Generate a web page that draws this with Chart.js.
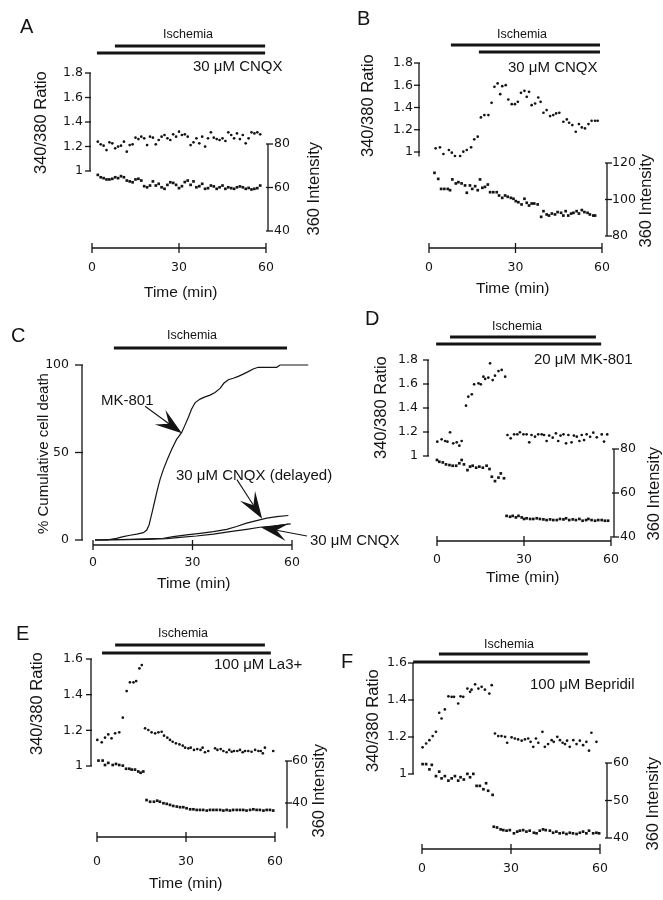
<!DOCTYPE html>
<html>
<head>
<meta charset="utf-8">
<script src="https://cdn.jsdelivr.net/npm/chart.js@4.4.1/dist/chart.umd.min.js"></script>
<style>
  body { margin: 0; background: #fff; }
  #fig { position: relative; width: 663px; height: 900px; overflow: hidden; background: #fff; }
  #fig canvas { position: absolute; }
  .lbl { position: absolute; white-space: nowrap; color: #141414;
         font-family: "Liberation Sans", Arial, Helvetica, sans-serif; }
</style>
</head>
<body>
<div id="fig"></div>
<script>
// ---------- data (time in min) ----------
var timeTicks = [0, 30, 60];
var ratioTicks18 = [1, 1.2, 1.4, 1.6, 1.8];
var ratioTicks16 = [1, 1.2, 1.4, 1.6];
var intensityTicksA = [40, 60, 80];
var intensityTicksB = [80, 100, 120];
var intensityTicksD = [40, 60, 80];
var intensityTicksE = [40, 60];
var intensityTicksF = [40, 50, 60];
var deathTicks = [0, 50, 100];

// panel A
var A_time = [2,3,4,5,6,7,8,9,10,11,12,13,14,15,16,17,18,19,20,21,22,23,24,25,26,27,28,29,30,31,32,33,34,35,36,37,38,39,40,41,42,43,44,45,46,47,48,49,50,51,52,53,54,55,56,57,58];
var A_ratio = [1.239,1.218,1.207,1.171,1.234,1.226,1.185,1.199,1.207,1.239,1.158,1.212,1.218,1.272,1.261,1.28,1.267,1.212,1.28,1.272,1.218,1.253,1.28,1.294,1.267,1.253,1.299,1.28,1.321,1.294,1.299,1.28,1.212,1.234,1.267,1.226,1.28,1.199,1.267,1.316,1.272,1.261,1.253,1.267,1.245,1.316,1.294,1.267,1.307,1.261,1.294,1.226,1.267,1.316,1.307,1.316,1.299];
var A_intensity = [65.8,64.7,64.3,63.7,63.7,64.0,64.7,64.3,65.2,64.7,63.2,62.8,62.4,63.7,64.0,63.2,60.6,60.1,60.9,62.8,60.9,61.7,60.1,59.4,61.2,62.4,62.1,61.2,59.7,60.6,62.5,63.2,61.2,62.8,60.1,60.6,61.7,59.4,59.7,60.9,60.5,59.4,60.1,60.9,59.4,60.1,59.7,59.4,60.1,60.5,60.1,59.4,59.8,59.1,59.4,59.7,60.9];
var A_ischemia = [7.9, 59.7];
var A_drug = [1.7, 59.7];

// panel B
var B_ratioTime = [2.3,3.8,5.0,6.9,7.9,9.0,10.8,11.9,13.1,14.6,15.7,16.9,18.0,19.2,20.6,21.7,22.7,23.8,24.7,25.4,26.6,27.5,28.7,29.8,30.8,31.9,33.1,33.9,34.7,35.6,36.8,37.9,38.7,39.7,40.8,42.0,43.1,44.1,45.2,46.6,47.8,48.6,49.7,50.9,52.0,53.0,54.1,55.3,56.4,57.6,58.5];
var B_ratio = [1.033,1.042,0.982,1.018,0.994,0.964,0.964,1.003,1.018,1.042,1.114,1.138,1.311,1.332,1.332,1.442,1.586,1.616,1.520,1.592,1.601,1.472,1.430,1.430,1.451,1.532,1.550,1.496,1.541,1.421,1.436,1.490,1.451,1.353,1.377,1.323,1.332,1.347,1.353,1.272,1.293,1.263,1.242,1.182,1.251,1.221,1.212,1.251,1.281,1.281,1.281];
var B_intTime = [1.9,3.2,4.2,5.3,6.5,7.3,8.1,9.3,10.2,11.3,12.5,13.1,14.2,15.0,16.0,16.9,17.7,18.5,19.4,20.4,21.2,22.3,23.5,24.3,25.4,26.4,27.3,28.4,29.3,30.1,31.0,32.1,33.1,33.9,34.7,35.6,36.5,37.7,38.9,39.7,40.8,41.6,42.6,43.7,44.6,45.8,46.6,47.4,48.3,49.3,50.1,51.2,52.0,53.0,53.9,55.0,55.8,57.0,57.6];
var B_intensity = [114.6,111.3,105.8,105.8,105.8,105.1,111.0,108.8,109.5,108.8,107.7,103.7,107.7,105.8,107.3,105.1,111.0,106.4,106.9,108.2,104.0,104.0,104.0,102.2,100.9,102.2,101.5,100.9,100.4,99.1,98.5,97.3,100.4,98.2,96.7,97.8,97.8,97.3,90.5,93.6,91.8,91.2,92.3,91.8,93.1,92.7,91.2,93.6,91.2,92.3,92.7,93.6,92.3,94.2,93.1,92.7,91.8,91.2,91.2];
var B_ischemia = [7.6, 59.3];
var B_drug = [17.3, 59.3];

// panel C (% cumulative cell death)
var C_mkTime = [0.6,4.1,7.1,9.1,11.2,13.2,15.2,16.2,16.9,17.4,18.0,18.7,19.4,20.2,21.2,22.4,23.7,25.2,26.7,27.7,28.7,29.7,30.8,32.3,33.8,35.3,36.8,38.3,39.5,40.8,42.3,43.8,45.3,46.8,48.3,49.8,52.4,55.4,56.4,60.4,64.9];
var C_mk = [0,0,0.9,1.9,2.7,3.4,4.2,5.7,8.6,12.5,17.2,23.0,28.7,34.5,40.2,46.0,51.7,57.5,61.3,65.5,69.9,74.7,78.5,80.5,81.8,82.8,84.3,86.6,89.7,91.6,92.4,93.5,94.8,96.2,97.7,98.7,98.7,98.7,100,100,100];
var C_delayedTime = [0.6,11.2,21.2,24.2,28.2,32.3,36.3,40.3,43.3,46.3,49.3,52.4,55.4,58.9];
var C_delayed = [0,0.4,1.0,1.9,2.9,3.8,4.8,6.1,7.7,9.6,11.1,12.5,13.4,14.0];
var C_cnqxTime = [0.6,16.2,22.2,26.2,31.2,36.3,41.3,46.3,50.3,54.4,59.6];
var C_cnqx = [0,0.4,0.8,1.5,2.3,3.4,4.8,6.1,7.3,8.0,9.2];
var C_ischemia = [6.3, 58.5];

// panel D
var D_ratioTime = [0.1,1.6,2.8,3.6,4.5,5.6,6.8,7.7,8.5,10.0,10.8,12.0,12.8,14.3,15.1,16.0,16.6,17.7,18.3,19.2,20.0,21.2,22.3,23.5,24.3,25.4,26.6,27.7,28.6,29.8,30.9,31.8,32.6,33.8,34.9,36.1,36.9,37.8,38.7,39.9,41.0,41.8,42.6,43.6,44.5,45.3,46.4,47.2,48.2,49.1,49.9,50.7,51.6,52.8,53.9,55.1,56.8,57.6,58.7];
var D_ratio = [1.119,1.139,1.125,1.119,1.197,1.106,1.114,1.086,1.125,1.419,1.494,1.514,1.597,1.606,1.597,1.661,1.642,1.653,1.772,1.633,1.669,1.708,1.717,1.661,1.175,1.147,1.181,1.181,1.197,1.181,1.181,1.114,1.175,1.161,1.181,1.181,1.175,1.125,1.17,1.153,1.189,1.125,1.17,1.181,1.106,1.175,1.114,1.17,1.161,1.125,1.175,1.133,1.181,1.16,1.194,1.156,1.18,1.12,1.18];
var D_intTime = [0,0.8,2.0,3.1,4.3,5.4,6.6,7.7,8.5,9.3,10.5,11.4,12.3,13.5,14.6,15.8,17.1,18.1,18.9,20.0,21.2,22.0,23.1,24.0,25.2,26.1,27.2,28.1,29.2,30.0,30.9,32.1,33.2,34.4,35.5,36.7,37.8,39.0,40.1,41.3,42.4,43.6,44.5,45.6,46.8,47.9,49.1,50.2,51.4,52.2,53.3,54.5,55.6,56.8,57.9,59.0];
var D_intensity = [75.0,74.2,73.9,73.0,72.7,72.4,72.4,73.5,75.0,73.0,70.4,72.0,72.4,71.5,72.0,71.5,72.4,70.9,67.4,65.4,67.0,68.9,66.7,49.6,49.2,49.6,48.9,49.6,48.9,48.2,48.5,48.2,48.2,48.5,48.2,48.0,47.7,48.0,47.7,47.7,48.2,48.0,48.5,47.7,48.0,47.7,48.2,47.4,47.7,48.2,47.7,47.4,47.7,47.7,47.4,47.4];
var D_ischemia = [4.5, 54.8];
var D_drug = [-0.3, 56.6];

// panel E
var E_ratioTime = [0.1,1.6,2.7,3.8,4.9,6.1,7.5,8.7,10.0,11.1,12.3,13.2,14.3,15.1,16.2,17.3,18.4,19.6,20.7,21.8,22.6,23.7,24.6,25.5,26.6,27.8,28.9,29.7,30.8,31.6,32.7,33.8,34.9,35.6,36.4,37.5,39.8,40.6,41.7,42.6,43.7,44.6,45.4,46.2,47.3,48.2,49.1,49.9,51.0,52.1,53.3,54.4,55.2,55.9,56.6,59.4];
var E_ratio = [1.146,1.133,1.159,1.177,1.155,1.183,1.189,1.271,1.420,1.469,1.469,1.476,1.547,1.566,1.211,1.202,1.189,1.183,1.189,1.192,1.170,1.159,1.146,1.136,1.127,1.121,1.114,1.103,1.099,1.103,1.090,1.095,1.090,1.103,1.077,1.084,1.099,1.090,1.095,1.084,1.077,1.090,1.080,1.084,1.084,1.090,1.077,1.084,1.084,1.080,1.090,1.084,1.084,1.071,1.103,1.084];
var E_intTime = [0.5,1.9,2.7,3.8,5.3,6.4,7.5,8.7,9.8,10.9,11.7,12.8,13.9,14.7,15.6,16.7,17.9,19.2,20.3,21.2,22.4,23.5,24.6,25.7,26.9,28.0,29.1,30.2,31.4,32.5,33.6,34.7,35.8,37.0,38.1,39.2,40.3,41.5,42.6,43.7,44.8,45.9,47.1,48.2,49.3,50.4,51.6,52.7,53.8,54.9,56.1,57.2,58.3,59.4];
var E_intensity = [60.2,60.2,58.1,59.1,58.1,58.6,58.1,57.8,56.3,56.3,55.9,55.9,55.0,54.4,55.0,41.4,40.6,40.6,41.1,40.6,39.9,39.6,39.1,38.6,38.3,38.0,38.0,37.5,37.0,37.0,36.7,36.7,36.7,36.4,36.7,36.7,36.7,36.7,36.4,36.7,36.4,36.7,36.7,36.7,36.7,36.4,36.7,37.0,36.7,36.7,36.4,36.7,36.7,36.4];
var E_ischemia = [6.1, 56.6];
var E_drug = [1.7, 58.6];

// panel F
var F_ratioTime = [0.2,1.4,2.5,3.6,4.7,5.8,6.6,7.7,8.9,10.0,10.8,12.2,13.0,13.9,15.3,16.2,16.7,17.9,19.0,20.1,21.2,22.7,23.5,24.6,25.7,26.8,28.0,28.7,30.2,31.3,32.4,33.6,34.7,35.8,36.6,37.5,38.4,39.2,40.6,41.4,42.5,43.7,44.4,45.6,46.5,47.4,48.2,48.9,49.8,51.0,52.1,53.2,54.3,55.4,56.3,57.1,58.8];
var F_ratio = [1.144,1.165,1.183,1.205,1.228,1.331,1.300,1.349,1.420,1.417,1.417,1.381,1.420,1.417,1.462,1.444,1.456,1.485,1.462,1.471,1.456,1.435,1.480,1.219,1.205,1.205,1.201,1.169,1.198,1.192,1.187,1.180,1.187,1.192,1.174,1.147,1.192,1.169,1.228,1.147,1.162,1.183,1.174,1.201,1.183,1.169,1.162,1.180,1.147,1.183,1.162,1.180,1.156,1.174,1.126,1.223,1.174];
var F_intTime = [0.2,1.4,2.5,3.3,4.7,5.8,6.6,7.7,8.9,10.0,11.1,12.2,13.0,14.1,15.3,16.2,17.3,18.4,19.5,20.7,21.6,22.3,23.8,24.2,25.3,26.5,27.4,28.5,29.6,31.0,32.1,33.0,34.1,35.2,36.3,37.7,38.6,39.7,40.8,41.7,43.1,44.2,45.3,46.4,47.6,48.7,49.8,50.9,52.1,53.2,54.3,55.4,56.3,57.7,58.8,59.7];
var F_intensity = [59.7,59.7,58.3,59.5,56.5,57.7,55.9,56.5,55.3,55.9,56.5,55.3,56.2,55.6,57.1,56.2,57.1,53.9,53.9,53.0,54.6,52.6,51.5,43.0,42.8,42.3,42.1,41.95,42.1,41.25,41.7,41.95,42.1,41.7,41.95,41.4,41.25,41.95,42.3,42.1,41.95,41.4,41.7,41.25,41.4,41.07,41.4,41.25,41.07,41.4,41.7,41.25,41.95,41.25,41.4,41.25];
var F_ischemia = [5.7, 55.9];
var F_drug = [-3.0, 56.6];

// ---------- drawing ----------
var INK = '#141414';
var TICK_FONT = { family: 'DejaVu Sans', size: 12.5 };
var fig = document.getElementById('fig');

function pts(xs, ys) {
  return xs.map(function (x, i) { return { x: x, y: ys[i] }; });
}
function ratioDots(xs, ys) {
  return { data: pts(xs, ys), yAxisID: 'yl', pointStyle: 'circle', pointRadius: 1.35,
           backgroundColor: INK, borderWidth: 0, showLine: false, clip: false };
}
function intensityDots(xs, ys) {
  return { data: pts(xs, ys), yAxisID: 'yr', pointStyle: 'rect', pointRadius: 1.9,
           backgroundColor: INK, borderWidth: 0, showLine: false, clip: false };
}
function curve(xs, ys) {
  return { data: pts(xs, ys), yAxisID: 'yl', showLine: true, pointRadius: 0,
           borderColor: INK, borderWidth: 1.2, tension: 0, clip: false };
}

function rangeFrom(lo, hi, pTop, pBottom) {
  var k = (lo[1] - hi[1]) / (hi[0] - lo[0]);
  return { min: lo[0] - (pBottom - lo[1]) / k, max: hi[0] + (hi[1] - pTop) / k };
}

function yAxis(pos, ax, area, w) {
  var r = rangeFrom(ax.lo, ax.hi, area.top, area.bottom);
  return {
    type: 'linear', position: pos, min: r.min, max: r.max,
    grid: { display: false, drawTicks: false }, border: { display: false },
    ticks: { autoSkip: false, padding: ax.pad, color: INK, font: TICK_FONT,
             callback: function (v) { return String(v); } },
    afterBuildTicks: function (s) { s.ticks = ax.ticks.map(function (v) { return { value: v }; }); },
    afterFit: function (s) { s.width = w; }
  };
}

function drawArrow(ctx, x1, y1, x2, y2) {
  var dx = x2 - x1, dy = y2 - y1, len = Math.hypot(dx, dy);
  var ux = dx / len, uy = dy / len, nx = -uy, ny = ux;
  var L = 27, W = 9, N = 16;
  ctx.lineWidth = 1.1;
  ctx.beginPath(); ctx.moveTo(x1, y1); ctx.lineTo(x2 - ux * N, y2 - uy * N); ctx.stroke();
  ctx.beginPath();
  ctx.moveTo(x2, y2);
  ctx.lineTo(x2 - ux * L + nx * W, y2 - uy * L + ny * W);
  ctx.lineTo(x2 - ux * N, y2 - uy * N);
  ctx.lineTo(x2 - ux * L - nx * W, y2 - uy * L - ny * W);
  ctx.closePath(); ctx.fill();
}

// axis segments, tick marks, treatment bars and arrows
function decor(p) {
  return {
    id: 'decor',
    afterDatasetsDraw: function (chart) {
      var ctx = chart.ctx, xs = chart.scales.x, a = chart.chartArea;
      var top0 = p.box[1];
      function seg(x1, y1, x2, y2) { ctx.beginPath(); ctx.moveTo(x1, y1); ctx.lineTo(x2, y2); ctx.stroke(); }
      ctx.save();
      ctx.strokeStyle = INK; ctx.fillStyle = INK; ctx.lineCap = 'butt';
      ctx.lineWidth = 1.3;
      // time axis
      seg(xs.getPixelForValue(0), a.bottom, xs.getPixelForValue(60), a.bottom);
      xs.ticks.forEach(function (t) {
        var px = xs.getPixelForValue(t.value);
        seg(px, a.bottom - 5, px, a.bottom + 5);
      });
      // left axis
      var yl = chart.scales.yl;
      seg(a.left, yl.getPixelForValue(p.left.line[0]), a.left, yl.getPixelForValue(p.left.line[1]));
      yl.ticks.forEach(function (t) {
        var py = yl.getPixelForValue(t.value);
        seg(a.left - p.left.tick, py, a.left + 1, py);
      });
      // right axis
      if (p.right) {
        var yr = chart.scales.yr;
        seg(a.right, yr.getPixelForValue(p.right.line[0]), a.right, yr.getPixelForValue(p.right.line[1]));
        yr.ticks.forEach(function (t) {
          var py = yr.getPixelForValue(t.value);
          seg(a.right - 2, py, a.right + 5, py);
        });
      }
      // ischemia / drug bars
      ctx.lineWidth = 3;
      p.bars.forEach(function (b) {
        seg(xs.getPixelForValue(b.t[0]), b.y - top0, xs.getPixelForValue(b.t[1]), b.y - top0);
      });
      // arrows
      (p.arrows || []).forEach(function (ar) {
        drawArrow(ctx, xs.getPixelForValue(ar.from[0]), yl.getPixelForValue(ar.from[1]),
                       xs.getPixelForValue(ar.to[0]), yl.getPixelForValue(ar.to[1]));
      });
      ctx.restore();
    }
  };
}

function buildPanel(p) {
  var bx = p.box[0], by = p.box[1], bw = p.box[2], bh = p.box[3];
  var cv = document.createElement('canvas');
  cv.width = bw; cv.height = bh;
  cv.style.left = bx + 'px'; cv.style.top = by + 'px';
  fig.appendChild(cv);
  var WL = 40, WR = p.right ? 40 : 0, HX = 30;
  var a = p.area;
  var k = (p.x60 - p.x0) / 60;
  var scales = {
    x: {
      type: 'linear', position: 'bottom',
      min: -(p.x0 - a.left) / k, max: 60 + (a.right - p.x60) / k,
      grid: { display: false, drawTicks: false }, border: { display: false },
      ticks: { autoSkip: false, padding: p.xPad, color: INK, maxRotation: 0, font: TICK_FONT },
      afterBuildTicks: function (s) { s.ticks = timeTicks.map(function (v) { return { value: v }; }); },
      afterFit: function (s) { s.height = HX; }
    },
    yl: yAxis('left', p.left, a, WL)
  };
  if (p.right) scales.yr = yAxis('right', p.right, a, WR);
  new Chart(cv, {
    type: 'scatter',
    data: { datasets: p.datasets },
    options: {
      responsive: false, animation: false, events: [],
      layout: { autoPadding: false, padding: {
        left: a.left - bx - WL, right: bx + bw - a.right - WR,
        top: a.top - by, bottom: by + bh - a.bottom - HX } },
      plugins: { legend: { display: false }, tooltip: { enabled: false } },
      scales: scales
    },
    plugins: [decor(p)]
  });
}

var panels = [
  { box: [0, 0, 331, 300], area: { left: 90, right: 268, top: 60, bottom: 248 }, x0: 92, x60: 266, xPad: 12,
    left: { ticks: ratioTicks18, lo: [1, 171], hi: [1.8, 73], line: [1, 1.8], pad: 7, tick: 5 },
    right: { ticks: intensityTicksA, lo: [40, 231], hi: [80, 144], line: [40, 80], pad: 6 },
    bars: [{ t: A_ischemia, y: 46 }, { t: A_drug, y: 53 }],
    datasets: [ratioDots(A_time, A_ratio), intensityDots(A_time, A_intensity)] },
  { box: [331, 0, 332, 300], area: { left: 419, right: 607, top: 55, bottom: 248 }, x0: 429, x60: 602, xPad: 12,
    left: { ticks: ratioTicks18, lo: [1, 152], hi: [1.8, 63], line: [0.96, 1.8], pad: 6, tick: 5 },
    right: { ticks: intensityTicksB, lo: [80, 236], hi: [120, 163], line: [80, 120], pad: 5 },
    bars: [{ t: B_ischemia, y: 45 }, { t: B_drug, y: 52 }],
    datasets: [ratioDots(B_ratioTime, B_ratio), intensityDots(B_intTime, B_intensity)] },
  { box: [0, 300, 331, 310], area: { left: 82, right: 312, top: 355, bottom: 545 }, x0: 93, x60: 292, xPad: 10,
    left: { ticks: deathTicks, lo: [0, 540], hi: [100, 365], line: [0, 100], pad: 13, tick: 7 },
    bars: [{ t: C_ischemia, y: 348 }],
    arrows: [{ from: [15.7, 76.4], to: [26.8, 61.0] },
             { from: [43.4, 34.5], to: [51.0, 12.2] },
             { from: [64.5, 2.3], to: [50.6, 7.3] }],
    datasets: [curve(C_mkTime, C_mk), curve(C_delayedTime, C_delayed), curve(C_cnqxTime, C_cnqx)] },
  { box: [331, 300, 332, 310], area: { left: 428, right: 614, top: 350, bottom: 541 }, x0: 437, x60: 611, xPad: 11,
    left: { ticks: ratioTicks18, lo: [1, 456], hi: [1.8, 360], line: [1, 1.8], pad: 10, tick: 5 },
    right: { ticks: intensityTicksD, lo: [40, 537], hi: [80, 449], line: [40, 80], pad: 6 },
    bars: [{ t: D_ischemia, y: 337 }, { t: D_drug, y: 344 }],
    datasets: [ratioDots(D_ratioTime, D_ratio), intensityDots(D_intTime, D_intensity)] },
  { box: [0, 610, 331, 290], area: { left: 91, right: 287, top: 650, bottom: 837 }, x0: 97, x60: 275, xPad: 17,
    left: { ticks: ratioTicks16, lo: [1, 766], hi: [1.6, 659], line: [1, 1.6], pad: 8, tick: 5 },
    right: { ticks: intensityTicksE, lo: [40, 803], hi: [60, 761], line: [28, 60], pad: 5 },
    bars: [{ t: E_ischemia, y: 645 }, { t: E_drug, y: 653 }],
    datasets: [ratioDots(E_ratioTime, E_ratio), intensityDots(E_intTime, E_intensity)] },
  { box: [331, 610, 332, 290], area: { left: 413, right: 607, top: 655, bottom: 849 }, x0: 422, x60: 600, xPad: 12,
    left: { ticks: ratioTicks16, lo: [1, 774], hi: [1.6, 663], line: [1, 1.6], pad: 6, tick: 5 },
    right: { ticks: intensityTicksF, lo: [40, 838], hi: [60, 763], line: [40, 60], pad: 6 },
    bars: [{ t: F_ischemia, y: 654 }, { t: F_drug, y: 662 }],
    datasets: [ratioDots(F_ratioTime, F_ratio), intensityDots(F_intTime, F_intensity)] }
];
panels.forEach(buildPanel);

// ---------- text ----------
var R = -90;
var texts = [
  ['A', 26, 26, 20], ['Ischemia', 188, 34, 12.5], ['30 μM CNQX', 283, 65, 15, 'right'],
  ['340/380 Ratio', 40, 122, 16.5, 'center', R], ['360 Intensity', 313, 188, 16.5, 'center', R],
  ['Time (min)', 180, 292, 15.5],
  ['B', 363, 18, 20], ['Ischemia', 522, 34, 12.5], ['30 μM CNQX', 598, 66, 15, 'right'],
  ['340/380 Ratio', 367, 105, 16.5, 'center', R], ['360 Intensity', 645, 200, 16.5, 'center', R],
  ['Time (min)', 512, 288, 15.5],
  ['C', 18, 335, 20], ['Ischemia', 192, 335, 12.5],
  ['% Cumulative cell death', 42, 453, 15, 'center', R], ['Time (min)', 193, 583, 15.5],
  ['MK-801', 127, 399, 15], ['30 μM CNQX (delayed)', 254, 474, 15], ['30 μM CNQX', 310, 539, 15, 'left'],
  ['D', 372, 318, 20], ['Ischemia', 517, 326, 12.5], ['20 μM MK-801', 633, 358, 15, 'right'],
  ['340/380 Ratio', 380, 407, 16.5, 'center', R], ['360 Intensity', 653, 493, 16.5, 'center', R],
  ['Time (min)', 522, 577, 15.5],
  ['E', 22, 633, 20], ['Ischemia', 183, 633, 12.5], ['100 μM La3+', 302, 663, 15, 'right'],
  ['340/380 Ratio', 36, 703, 16.5, 'center', R], ['360 Intensity', 318, 790, 16.5, 'center', R],
  ['Time (min)', 185, 883, 15.5],
  ['F', 347, 661, 20], ['Ischemia', 509, 644, 12.5], ['100 μM Bepridil', 635, 683, 15, 'right'],
  ['340/380 Ratio', 372, 720, 16.5, 'center', R], ['360 Intensity', 652, 803, 16.5, 'center', R]
];
// place each label on whole pixels so rotated text stays crisp
texts.forEach(function (t) {
  var d = document.createElement('div');
  d.className = 'lbl';
  d.textContent = t[0];
  d.style.fontSize = t[3] + 'px';
  d.style.lineHeight = Math.round(t[3]) + 'px';
  d.style.left = '0px'; d.style.top = '0px';
  fig.appendChild(d);
  var w = d.offsetWidth, h = d.offsetHeight;
  if (t[5]) {
    // rotate about the box centre: make centre land on (x, y)
    d.style.width = w + 'px'; d.style.height = h + 'px';
    d.style.left = Math.round(t[1] - w / 2) + 'px';
    d.style.top = Math.round(t[2] - h / 2) + 'px';
    d.style.transformOrigin = (w / 2) + 'px ' + (h / 2) + 'px';
    d.style.transform = 'rotate(' + t[5] + 'deg)';
  } else {
    var left = t[4] === 'right' ? t[1] - w : (t[4] === 'left' ? t[1] : t[1] - w / 2);
    d.style.left = Math.round(left) + 'px';
    d.style.top = Math.round(t[2] - h / 2) + 'px';
  }
});
</script>
</body>
</html>
